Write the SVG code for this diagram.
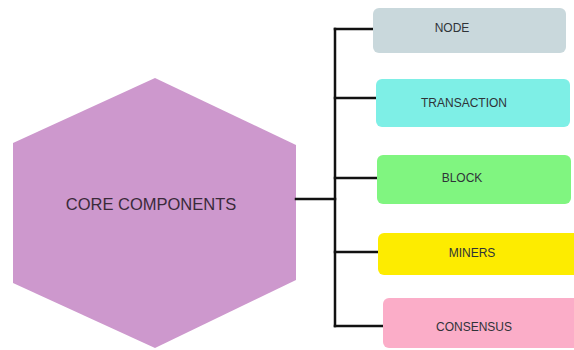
<svg xmlns="http://www.w3.org/2000/svg" width="574" height="350" viewBox="0 0 574 350">
  <style>
    .lbl { font-family: "Liberation Sans", Arial, sans-serif; font-size: 12px; fill: #2f3338; text-anchor: middle; }
    .core { font-family: "Liberation Sans", Arial, sans-serif; font-size: 16.5px; fill: #3a2a3a; text-anchor: middle; }
    .conn { stroke: #111; stroke-width: 2.5; fill: none; stroke-linecap: square; }
    .box { rx: 6; ry: 6; }
  </style>
  <rect width="574" height="350" fill="#ffffff"/>
  <g id="core">
    <polygon points="155,78 296,145 296,280 155,348 13,283 13,143" fill="#cd98cd"/>
    <text class="core" x="151" y="210">CORE COMPONENTS</text>
  </g>
  <g id="connectors">
    <line class="conn" x1="296" y1="199" x2="335" y2="199"/>
    <line class="conn" x1="335" y1="29" x2="335" y2="326"/>
    <line class="conn" x1="335" y1="29" x2="372" y2="29"/>
    <line class="conn" x1="335" y1="98" x2="375" y2="98"/>
    <line class="conn" x1="335" y1="178" x2="377" y2="178"/>
    <line class="conn" x1="335" y1="252" x2="378" y2="252"/>
    <line class="conn" x1="335" y1="326" x2="383" y2="326"/>
  </g>
  <g id="node">
    <rect class="box" x="373" y="8" width="193" height="45" fill="#c9d8dc"/>
    <text class="lbl" x="452" y="32">NODE</text>
  </g>
  <g id="transaction">
    <rect class="box" x="376" y="79" width="194" height="48" fill="#7eefe6"/>
    <text class="lbl" x="464" y="107">TRANSACTION</text>
  </g>
  <g id="block">
    <rect class="box" x="377" y="155" width="194" height="49" fill="#80f580"/>
    <text class="lbl" x="462" y="182">BLOCK</text>
  </g>
  <g id="miners">
    <rect class="box" x="378" y="233" width="202" height="42" fill="#fdec00"/>
    <text class="lbl" x="472" y="257">MINERS</text>
  </g>
  <g id="consensus">
    <rect class="box" x="383" y="298" width="197" height="50" fill="#fbadc8"/>
    <text class="lbl" x="474" y="331">CONSENSUS</text>
  </g>
</svg>
